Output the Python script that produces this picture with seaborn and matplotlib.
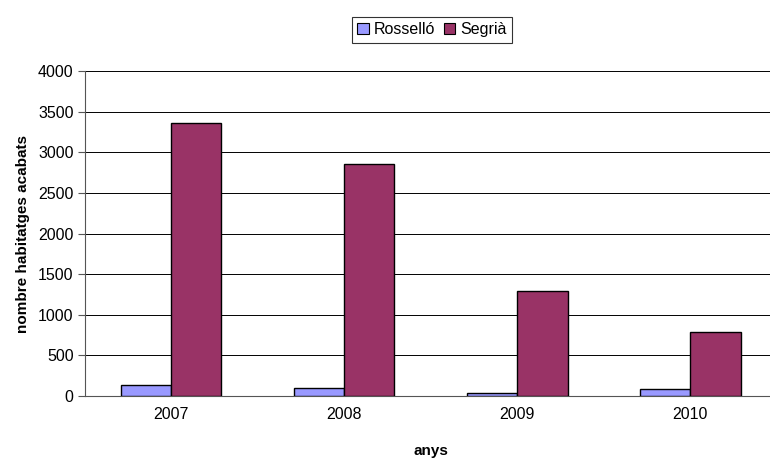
import numpy as np
import pandas as pd
import matplotlib
matplotlib.use("Agg")
import matplotlib.pyplot as plt
import seaborn as sns

years = ["2007", "2008", "2009", "2010"]
rossello = [140, 95, 40, 88]
segria = [3360, 2855, 1300, 795]
series_names = ["Rosselló", "Segrià"]
colors = ["#9999FF", "#993366"]

df = pd.DataFrame({
    "any": years * 2,
    "valor": rossello + segria,
    "zona": [series_names[0]] * 4 + [series_names[1]] * 4,
})

sns.set_style("white")
plt.rcParams["font.family"] = ["Liberation Sans", "DejaVu Sans"]
plt.rcParams["text.color"] = "black"
plt.rcParams["axes.labelcolor"] = "black"
plt.rcParams["xtick.labelcolor"] = "black"
plt.rcParams["ytick.labelcolor"] = "black"

fig = plt.figure(figsize=(7.7, 4.59), dpi=100)
ax = fig.add_axes([0.110, 0.137, 0.899, 0.708])

sns.barplot(data=df, x="any", y="valor", hue="zona", palette=colors,
            width=0.58, edgecolor="black", linewidth=1, saturation=1,
            ax=ax, zorder=3)

ax.set_ylim(0, 4000)
ax.set_xlim(-0.5, 3.5)
ax.set_yticks(np.arange(0, 4001, 500))
ax.yaxis.grid(True, color="black", linewidth=0.7, zorder=0)
ax.set_axisbelow(True)
for s in ["top", "right"]:
    ax.spines[s].set_visible(False)
ax.spines["left"].set_color("#555555")
ax.spines["bottom"].set_color("#555555")
ax.set_xticks([-0.5, 0.5, 1.5, 2.5], minor=True)
ax.tick_params(axis="x", which="major", length=0, labelsize=11.5, pad=8, labelcolor="black")
ax.tick_params(axis="x", which="minor", length=5, color="#555555", direction="out")
ax.tick_params(axis="y", length=5, color="#555555", direction="out", labelsize=11.5,
               left=True, pad=3, labelcolor="black")

ax.set_xlabel("anys", fontsize=11, fontweight="bold", labelpad=16, color="black")
ax.set_ylabel("nombre habitatges acabats", fontsize=11, fontweight="bold", labelpad=6, color="black")

ax.legend_.remove()
handles = [plt.Rectangle((0, 0), 1, 1, facecolor=c, edgecolor="black", linewidth=0.8) for c in colors]
leg = fig.legend(handles, series_names, loc="center", bbox_to_anchor=(0.561, 0.935),
                 ncol=2, frameon=True, fancybox=False, fontsize=11.5,
                 handlelength=0.7, handleheight=0.7, handletextpad=0.3,
                 columnspacing=0.6, borderpad=0.35)
leg.get_frame().set_edgecolor("black")
leg.get_frame().set_linewidth(0.8)

fig.savefig("out.png", dpi=100)
